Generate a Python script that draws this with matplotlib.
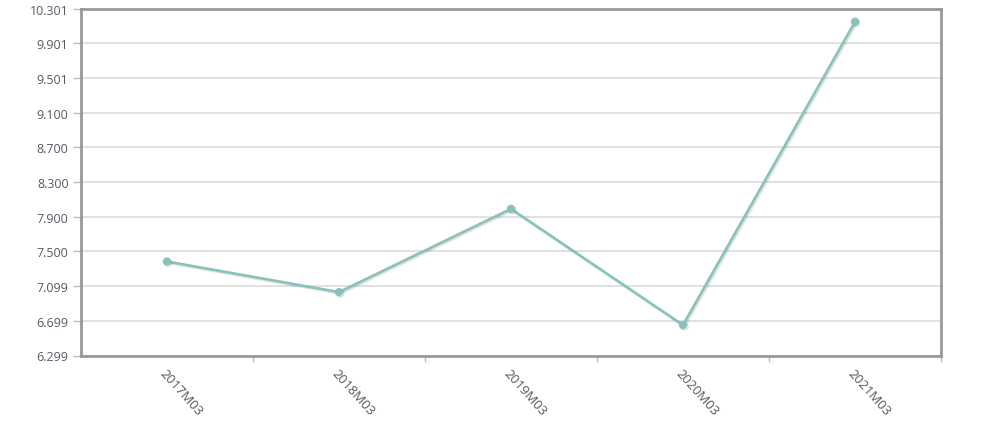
import matplotlib
matplotlib.use("Agg")
import matplotlib.pyplot as plt
import matplotlib.patheffects as pe

categories = ["2017M03", "2018M03", "2019M03", "2020M03", "2021M03"]
values = [7.383, 7.030, 7.990, 6.650, 10.148]
ytick_values = [6.299, 6.699, 7.099, 7.500, 7.900, 8.300, 8.700, 9.100, 9.501, 9.901, 10.301]
ytick_labels = ["6.299", "6.699", "7.099", "7.500", "7.900", "8.300", "8.700", "9.100", "9.501", "9.901", "10.301"]

plt.rcParams['font.family'] = ['Open Sans', 'DejaVu Sans']

fig = plt.figure(figsize=(9.9, 4.35), dpi=100)
ax = fig.add_axes([81/990, 1-356.5/435, 860/990, 347/435])

x = list(range(len(categories)))
line_color = "#88C3BB"
ax.plot(x, values, color=line_color, lw=1.9, marker='o', ms=5, mfc=line_color, mec=line_color, zorder=3,
        path_effects=[pe.SimpleLineShadow(offset=(1, -1), shadow_color='#000000', alpha=0.12), pe.Normal()])

ax.set_xlim(-0.5, len(categories) - 0.5)
ax.set_ylim(ytick_values[0], ytick_values[-1])
ax.set_yticks(ytick_values)
ax.set_yticklabels(ytick_labels)
ax.yaxis.grid(True, color='#dcdcdc', lw=1.2)
ax.set_axisbelow(True)

ax.set_xticks(x)
ax.set_xticklabels(categories, rotation=-48, ha='left', va='top', rotation_mode='anchor')
ax.tick_params(axis='x', length=0, pad=8, labelsize=9.5, labelcolor='#555555')
ax.set_xticks([i + 0.5 for i in x], minor=True)
ax.tick_params(axis='x', which='minor', length=4, color='#bbbbbb', width=1)
ax.tick_params(axis='y', length=6, color='#bbbbbb', width=1, pad=3, labelsize=9, labelcolor='#555a66')

for name, sp in ax.spines.items():
    sp.set_color('#999999')
    sp.set_linewidth(2)
    sp.set_path_effects([pe.SimplePatchShadow(offset=(1.5, -1.5), shadow_rgbFace='#000000', alpha=0.15), pe.Normal()])

fig.savefig("out.png", dpi=100, facecolor='white')
